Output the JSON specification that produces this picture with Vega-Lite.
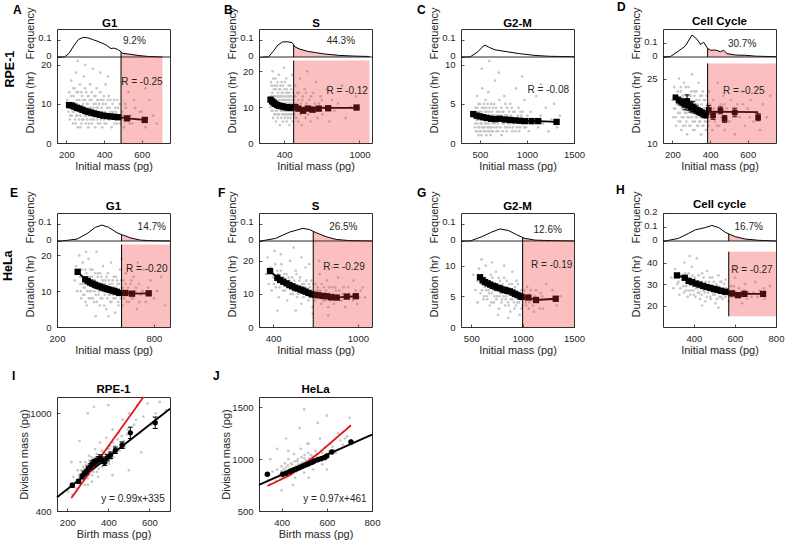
{
"$schema":"https://vega.github.io/schema/vega-lite/v6.json",
"padding":{"left":1,"top":0,"right":0,"bottom":0},
"config":{
 "font":"Liberation Sans",
 "view":{"stroke":"#303030","strokeWidth":1},
 "axis":{"grid":false,"ticks":true,"tickSize":-3,"tickColor":"#262626","tickWidth":0.8,"domain":false,"labelFontSize":9.5,"titleFontSize":11,"titleFontWeight":"normal","labelColor":"#262626","titleColor":"#262626","labelFont":"Liberation Sans","titleFont":"Liberation Sans","labelOverlap":false,"labelFlush":false},
 "axisX":{"labelPadding":9,"titlePadding":2,"format":"d"},
 "axisY":{"labelPadding":9,"titlePadding":2,"format":"~f"},
 "text":{"font":"Liberation Sans"}
},
"datasets":{
"pA":[{"x":205,"y":11},{"x":210,"y":8},{"x":215,"y":13},{"x":218,"y":6},{"x":222,"y":9},{"x":225,"y":16},{"x":228,"y":7},{"x":232,"y":10},{"x":235,"y":5},{"x":238,"y":12},{"x":240,"y":8},{"x":243,"y":14},{"x":246,"y":6},{"x":248,"y":10},{"x":250,"y":18},{"x":252,"y":7},{"x":255,"y":11},{"x":258,"y":9},{"x":260,"y":4},{"x":262,"y":13},{"x":265,"y":8},{"x":268,"y":6},{"x":270,"y":11},{"x":272,"y":15},{"x":275,"y":7},{"x":278,"y":9},{"x":280,"y":5},{"x":283,"y":12},{"x":285,"y":8},{"x":288,"y":10},{"x":290,"y":6},{"x":292,"y":17},{"x":295,"y":9},{"x":298,"y":7},{"x":300,"y":11},{"x":303,"y":5},{"x":305,"y":13},{"x":308,"y":8},{"x":310,"y":6},{"x":313,"y":10},{"x":316,"y":4},{"x":318,"y":12},{"x":320,"y":7},{"x":323,"y":9},{"x":326,"y":15},{"x":328,"y":6},{"x":330,"y":8},{"x":333,"y":11},{"x":336,"y":5},{"x":338,"y":7},{"x":340,"y":19},{"x":343,"y":9},{"x":346,"y":6},{"x":348,"y":12},{"x":350,"y":8},{"x":353,"y":4},{"x":356,"y":10},{"x":358,"y":7},{"x":360,"y":14},{"x":363,"y":6},{"x":366,"y":9},{"x":368,"y":5},{"x":370,"y":11},{"x":373,"y":7},{"x":376,"y":8},{"x":380,"y":13},{"x":383,"y":6},{"x":386,"y":9},{"x":390,"y":4},{"x":393,"y":7},{"x":396,"y":11},{"x":400,"y":6},{"x":404,"y":8},{"x":408,"y":15},{"x":412,"y":5},{"x":416,"y":9},{"x":420,"y":7},{"x":425,"y":12},{"x":430,"y":6},{"x":435,"y":8},{"x":440,"y":4},{"x":445,"y":10},{"x":450,"y":7},{"x":455,"y":5},{"x":460,"y":9},{"x":465,"y":6},{"x":470,"y":11},{"x":478,"y":7},{"x":485,"y":5},{"x":495,"y":8},{"x":505,"y":4},{"x":512,"y":10},{"x":520,"y":6},{"x":530,"y":13},{"x":540,"y":7},{"x":550,"y":5},{"x":565,"y":9},{"x":580,"y":6},{"x":600,"y":8},{"x":620,"y":4},{"x":640,"y":11},{"x":660,"y":7},{"x":680,"y":5},{"x":260,"y":21},{"x":300,"y":20},{"x":380,"y":18},{"x":420,"y":17},{"x":620,"y":14},{"x":212,"y":10},{"x":220,"y":7},{"x":226,"y":12},{"x":233,"y":8},{"x":237,"y":14},{"x":244,"y":9},{"x":249,"y":5},{"x":254,"y":13},{"x":259,"y":7},{"x":264,"y":11},{"x":269,"y":9},{"x":274,"y":4},{"x":279,"y":13},{"x":284,"y":6},{"x":289,"y":11},{"x":294,"y":8},{"x":299,"y":14},{"x":304,"y":7},{"x":309,"y":10},{"x":314,"y":12},{"x":319,"y":5},{"x":324,"y":11},{"x":329,"y":9},{"x":334,"y":13},{"x":339,"y":6},{"x":344,"y":10},{"x":349,"y":7},{"x":354,"y":12},{"x":359,"y":9},{"x":364,"y":11},{"x":369,"y":7},{"x":374,"y":10},{"x":379,"y":5},{"x":384,"y":11},{"x":389,"y":8},{"x":394,"y":10},{"x":399,"y":12},{"x":403,"y":5},{"x":409,"y":10},{"x":414,"y":7},{"x":419,"y":11},{"x":424,"y":6},{"x":429,"y":9},{"x":434,"y":11},{"x":439,"y":7},{"x":447,"y":8},{"x":453,"y":11},{"x":458,"y":6},{"x":463,"y":8},{"x":468,"y":5},{"x":474,"y":9},{"x":482,"y":10},{"x":490,"y":6},{"x":500,"y":7},{"x":515,"y":9},{"x":535,"y":5},{"x":560,"y":11},{"x":590,"y":8}],
"fA":[{"x":150,"f":0},{"x":190,"f":0},{"x":214,"f":0.021},{"x":239,"f":0.064},{"x":264,"f":0.1},{"x":289,"f":0.112},{"x":313,"f":0.11},{"x":338,"f":0.1},{"x":363,"f":0.091},{"x":388,"f":0.08},{"x":413,"f":0.067},{"x":437,"f":0.048},{"x":452,"f":0.051},{"x":472,"f":0.043},{"x":490,"f":0.03},{"x":497,"f":0.021},{"x":537,"f":0.016},{"x":586,"f":0.008},{"x":636,"f":0.003},{"x":685,"f":0.001},{"x":710,"f":0}],
"mA":[{"x":214,"y":9.7},{"x":228,"y":9.6},{"x":242,"y":9.3},{"x":256,"y":9.0},{"x":270,"y":8.8},{"x":285,"y":8.5},{"x":300,"y":8.2},{"x":315,"y":8.0},{"x":330,"y":7.8},{"x":345,"y":7.6},{"x":360,"y":7.4},{"x":378,"y":7.2},{"x":395,"y":7.0},{"x":415,"y":6.9},{"x":435,"y":6.8},{"x":455,"y":6.7},{"x":475,"y":6.6},{"x":522,"y":6.3},{"x":616,"y":5.9}],
"pB":[{"x":290,"y":12},{"x":295,"y":17},{"x":300,"y":9},{"x":305,"y":14},{"x":308,"y":20},{"x":312,"y":7},{"x":315,"y":11},{"x":318,"y":15},{"x":322,"y":8},{"x":325,"y":13},{"x":328,"y":10},{"x":332,"y":18},{"x":335,"y":6},{"x":338,"y":12},{"x":340,"y":9},{"x":343,"y":16},{"x":346,"y":11},{"x":350,"y":7},{"x":352,"y":14},{"x":355,"y":10},{"x":358,"y":19},{"x":360,"y":8},{"x":363,"y":12},{"x":366,"y":5},{"x":368,"y":15},{"x":370,"y":10},{"x":373,"y":9},{"x":376,"y":13},{"x":378,"y":7},{"x":380,"y":17},{"x":383,"y":11},{"x":386,"y":8},{"x":388,"y":14},{"x":390,"y":6},{"x":393,"y":10},{"x":396,"y":12},{"x":398,"y":21},{"x":400,"y":9},{"x":403,"y":15},{"x":406,"y":7},{"x":408,"y":11},{"x":410,"y":13},{"x":413,"y":8},{"x":416,"y":10},{"x":418,"y":18},{"x":420,"y":6},{"x":423,"y":12},{"x":426,"y":9},{"x":428,"y":14},{"x":430,"y":7},{"x":433,"y":11},{"x":436,"y":16},{"x":438,"y":8},{"x":440,"y":10},{"x":443,"y":5},{"x":446,"y":13},{"x":448,"y":9},{"x":450,"y":12},{"x":453,"y":7},{"x":456,"y":15},{"x":458,"y":10},{"x":460,"y":8},{"x":463,"y":11},{"x":466,"y":19},{"x":468,"y":6},{"x":470,"y":9},{"x":475,"y":13},{"x":480,"y":8},{"x":485,"y":11},{"x":490,"y":16},{"x":495,"y":7},{"x":500,"y":10},{"x":505,"y":14},{"x":510,"y":6},{"x":515,"y":12},{"x":520,"y":9},{"x":525,"y":18},{"x":530,"y":8},{"x":535,"y":11},{"x":540,"y":5},{"x":548,"y":13},{"x":555,"y":9},{"x":562,"y":15},{"x":570,"y":7},{"x":578,"y":11},{"x":585,"y":20},{"x":592,"y":8},{"x":600,"y":12},{"x":610,"y":6},{"x":620,"y":10},{"x":630,"y":14},{"x":640,"y":9},{"x":652,"y":17},{"x":665,"y":7},{"x":678,"y":11},{"x":690,"y":13},{"x":705,"y":8},{"x":720,"y":10},{"x":740,"y":15},{"x":760,"y":6},{"x":780,"y":12},{"x":800,"y":9},{"x":830,"y":11},{"x":860,"y":16},{"x":890,"y":7},{"x":930,"y":10},{"x":970,"y":13},{"x":292,"y":10},{"x":298,"y":13},{"x":302,"y":16},{"x":307,"y":11},{"x":311,"y":9},{"x":314,"y":18},{"x":317,"y":13},{"x":321,"y":11},{"x":324,"y":16},{"x":327,"y":8},{"x":331,"y":12},{"x":334,"y":15},{"x":337,"y":9},{"x":341,"y":13},{"x":345,"y":8},{"x":348,"y":17},{"x":351,"y":11},{"x":354,"y":13},{"x":357,"y":8},{"x":361,"y":15},{"x":364,"y":10},{"x":367,"y":13},{"x":371,"y":16},{"x":374,"y":11},{"x":377,"y":9},{"x":381,"y":14},{"x":384,"y":12},{"x":387,"y":10},{"x":391,"y":16},{"x":394,"y":13},{"x":397,"y":8},{"x":401,"y":12},{"x":404,"y":11},{"x":407,"y":17},{"x":411,"y":9},{"x":414,"y":14},{"x":417,"y":12},{"x":421,"y":15},{"x":424,"y":8},{"x":427,"y":11},{"x":431,"y":13},{"x":434,"y":9},{"x":437,"y":12},{"x":441,"y":14},{"x":444,"y":11},{"x":447,"y":8},{"x":451,"y":16},{"x":454,"y":10},{"x":457,"y":13},{"x":461,"y":9},{"x":465,"y":12},{"x":469,"y":14},{"x":473,"y":10},{"x":478,"y":12},{"x":483,"y":9},{"x":488,"y":13},{"x":498,"y":11},{"x":508,"y":9},{"x":518,"y":14},{"x":528,"y":10},{"x":545,"y":12},{"x":560,"y":10},{"x":575,"y":14},{"x":595,"y":10},{"x":615,"y":13},{"x":645,"y":11},{"x":670,"y":9},{"x":700,"y":12}],
"fB":[{"x":230,"f":0},{"x":275,"f":0},{"x":313,"f":0.032},{"x":350,"f":0.068},{"x":388,"f":0.086},{"x":426,"f":0.087},{"x":463,"f":0.082},{"x":476,"f":0.07},{"x":488,"f":0.057},{"x":526,"f":0.045},{"x":589,"f":0.032},{"x":651,"f":0.025},{"x":714,"f":0.018},{"x":840,"f":0.009},{"x":965,"f":0.005},{"x":1080,"f":0.003}],
"mB":[{"x":292,"y":12.1},{"x":305,"y":11.6},{"x":318,"y":11.2},{"x":330,"y":10.9},{"x":345,"y":10.6},{"x":360,"y":10.4},{"x":375,"y":10.3},{"x":390,"y":10.2},{"x":405,"y":10.0},{"x":420,"y":10.0},{"x":435,"y":9.9},{"x":450,"y":9.8},{"x":463,"y":9.9},{"x":490,"y":10.0},{"x":514,"y":9.6},{"x":551,"y":9.0},{"x":589,"y":9.6},{"x":627,"y":9.3},{"x":676,"y":9.6},{"x":751,"y":9.7},{"x":977,"y":9.9}],
"lB":[{"x":292,"y":12.1},{"x":305,"y":11.6},{"x":318,"y":11.2},{"x":330,"y":10.9},{"x":345,"y":10.6},{"x":360,"y":10.4},{"x":375,"y":10.3},{"x":390,"y":10.2},{"x":405,"y":10.0},{"x":420,"y":10.0},{"x":435,"y":9.9},{"x":450,"y":9.8},{"x":463,"y":9.9},{"x":476,"y":9.8},{"x":977,"y":9.8}],
"pC":[{"x":440,"y":3.5},{"x":448,"y":2},{"x":455,"y":4.5},{"x":460,"y":1.5},{"x":465,"y":3},{"x":470,"y":6},{"x":475,"y":2.5},{"x":480,"y":4},{"x":485,"y":1},{"x":490,"y":3.5},{"x":495,"y":2},{"x":500,"y":5},{"x":505,"y":3},{"x":510,"y":1.5},{"x":515,"y":4},{"x":520,"y":2.5},{"x":525,"y":7},{"x":530,"y":3},{"x":535,"y":2},{"x":540,"y":4.5},{"x":545,"y":1.5},{"x":550,"y":3.5},{"x":555,"y":2.5},{"x":560,"y":5.5},{"x":565,"y":3},{"x":570,"y":1},{"x":575,"y":4},{"x":580,"y":2},{"x":585,"y":3.5},{"x":590,"y":6.5},{"x":595,"y":2.5},{"x":600,"y":4},{"x":605,"y":1.5},{"x":610,"y":3},{"x":615,"y":2},{"x":620,"y":5},{"x":625,"y":3.5},{"x":630,"y":1.5},{"x":635,"y":2.5},{"x":640,"y":4.5},{"x":648,"y":3},{"x":655,"y":2},{"x":662,"y":8},{"x":670,"y":3.5},{"x":678,"y":1.5},{"x":685,"y":4},{"x":692,"y":2.5},{"x":700,"y":3},{"x":708,"y":5.5},{"x":715,"y":2},{"x":722,"y":3.5},{"x":730,"y":1},{"x":738,"y":4},{"x":745,"y":2.5},{"x":752,"y":3},{"x":760,"y":6},{"x":768,"y":2},{"x":775,"y":3.5},{"x":783,"y":1.5},{"x":790,"y":4.5},{"x":798,"y":2.5},{"x":805,"y":3},{"x":815,"y":2},{"x":825,"y":5},{"x":835,"y":3},{"x":845,"y":1.5},{"x":855,"y":4},{"x":865,"y":2.5},{"x":875,"y":3},{"x":885,"y":7},{"x":895,"y":2},{"x":905,"y":3.5},{"x":918,"y":1.5},{"x":930,"y":4},{"x":945,"y":2.5},{"x":960,"y":3},{"x":975,"y":5.5},{"x":990,"y":2},{"x":1005,"y":3.5},{"x":1020,"y":1.5},{"x":1040,"y":4},{"x":1060,"y":2.5},{"x":1080,"y":3},{"x":1100,"y":6},{"x":1120,"y":2},{"x":1145,"y":3.5},{"x":1170,"y":2.5},{"x":1200,"y":4.5},{"x":1230,"y":1.5},{"x":1260,"y":3},{"x":1290,"y":5},{"x":1320,"y":2},{"x":1350,"y":3.5},{"x":520,"y":9.5},{"x":700,"y":9},{"x":950,"y":8.5},{"x":1150,"y":7.5},{"x":600,"y":10.5},{"x":452,"y":2.5},{"x":458,"y":4},{"x":463,"y":3},{"x":468,"y":1.5},{"x":473,"y":4.5},{"x":478,"y":3},{"x":483,"y":2},{"x":488,"y":5},{"x":493,"y":3},{"x":498,"y":1.5},{"x":503,"y":4},{"x":508,"y":2.5},{"x":513,"y":3.5},{"x":518,"y":1},{"x":523,"y":4.5},{"x":528,"y":2},{"x":533,"y":3.5},{"x":538,"y":3},{"x":543,"y":5},{"x":548,"y":2},{"x":553,"y":4},{"x":558,"y":1.5},{"x":563,"y":3},{"x":568,"y":4.5},{"x":573,"y":2.5},{"x":578,"y":3},{"x":583,"y":5},{"x":588,"y":1.5},{"x":593,"y":3.5},{"x":598,"y":2},{"x":603,"y":4.5},{"x":608,"y":3},{"x":613,"y":1},{"x":618,"y":3.5},{"x":623,"y":2},{"x":628,"y":4},{"x":633,"y":3},{"x":638,"y":1.5},{"x":645,"y":3.5},{"x":652,"y":5},{"x":658,"y":2.5},{"x":665,"y":3},{"x":673,"y":4.5},{"x":681,"y":2},{"x":689,"y":3.5},{"x":697,"y":1.5},{"x":705,"y":4},{"x":712,"y":3},{"x":720,"y":2},{"x":727,"y":4.5},{"x":735,"y":3},{"x":742,"y":1.5},{"x":750,"y":4},{"x":757,"y":2.5},{"x":765,"y":3.5},{"x":772,"y":5},{"x":780,"y":3},{"x":788,"y":2},{"x":795,"y":3.5},{"x":810,"y":4},{"x":820,"y":2.5},{"x":830,"y":3.5},{"x":840,"y":4.5},{"x":850,"y":2},{"x":860,"y":3},{"x":870,"y":4},{"x":880,"y":1.5},{"x":890,"y":3},{"x":910,"y":4.5},{"x":925,"y":2},{"x":940,"y":3.5},{"x":955,"y":4},{"x":970,"y":2},{"x":985,"y":3}],
"fC":[{"x":300,"f":0},{"x":396,"f":0},{"x":484,"f":0.032},{"x":520,"f":0.054},{"x":555,"f":0.068},{"x":600,"f":0.055},{"x":661,"f":0.041},{"x":767,"f":0.032},{"x":908,"f":0.02},{"x":1086,"f":0.009},{"x":1238,"f":0.004},{"x":1475,"f":0.002},{"x":1500,"f":0.001}],
"mC":[{"x":430,"y":3.7},{"x":465,"y":3.5},{"x":501,"y":3.4},{"x":536,"y":3.3},{"x":572,"y":3.2},{"x":618,"y":3.1},{"x":660,"y":3.05},{"x":713,"y":3.1},{"x":766,"y":3.0},{"x":819,"y":2.95},{"x":872,"y":2.9},{"x":925,"y":2.85},{"x":978,"y":2.8},{"x":1049,"y":2.8},{"x":1120,"y":2.8},{"x":1315,"y":2.7}],
"pD":[{"x":200,"y":20},{"x":205,"y":16},{"x":210,"y":23},{"x":215,"y":18},{"x":220,"y":14},{"x":225,"y":21},{"x":230,"y":17},{"x":235,"y":25},{"x":238,"y":19},{"x":242,"y":15},{"x":245,"y":22},{"x":248,"y":13},{"x":252,"y":18},{"x":255,"y":20},{"x":258,"y":16},{"x":262,"y":24},{"x":265,"y":19},{"x":268,"y":14},{"x":272,"y":21},{"x":275,"y":17},{"x":278,"y":12},{"x":282,"y":20},{"x":285,"y":23},{"x":288,"y":16},{"x":292,"y":18},{"x":295,"y":14},{"x":298,"y":21},{"x":302,"y":19},{"x":305,"y":26},{"x":308,"y":15},{"x":312,"y":17},{"x":315,"y":22},{"x":318,"y":13},{"x":322,"y":19},{"x":325,"y":16},{"x":328,"y":20},{"x":332,"y":14},{"x":335,"y":18},{"x":338,"y":24},{"x":342,"y":15},{"x":345,"y":17},{"x":348,"y":21},{"x":352,"y":12},{"x":355,"y":19},{"x":358,"y":16},{"x":362,"y":22},{"x":365,"y":14},{"x":368,"y":18},{"x":372,"y":15},{"x":375,"y":20},{"x":378,"y":13},{"x":382,"y":17},{"x":385,"y":19},{"x":390,"y":14},{"x":395,"y":22},{"x":400,"y":16},{"x":405,"y":18},{"x":412,"y":13},{"x":418,"y":20},{"x":425,"y":15},{"x":432,"y":17},{"x":440,"y":24},{"x":448,"y":14},{"x":455,"y":19},{"x":462,"y":16},{"x":470,"y":21},{"x":478,"y":13},{"x":488,"y":18},{"x":498,"y":15},{"x":510,"y":20},{"x":520,"y":17},{"x":532,"y":12},{"x":545,"y":19},{"x":558,"y":16},{"x":570,"y":22},{"x":585,"y":14},{"x":600,"y":18},{"x":615,"y":20},{"x":630,"y":15},{"x":648,"y":17},{"x":665,"y":13},{"x":680,"y":19},{"x":700,"y":16},{"x":720,"y":21},{"x":208,"y":18},{"x":213,"y":21},{"x":218,"y":16},{"x":223,"y":19},{"x":228,"y":22},{"x":233,"y":15},{"x":236,"y":20},{"x":240,"y":17},{"x":244,"y":23},{"x":247,"y":19},{"x":250,"y":16},{"x":254,"y":21},{"x":257,"y":14},{"x":260,"y":18},{"x":264,"y":20},{"x":267,"y":17},{"x":270,"y":23},{"x":274,"y":15},{"x":277,"y":19},{"x":280,"y":16},{"x":284,"y":21},{"x":287,"y":18},{"x":290,"y":14},{"x":294,"y":20},{"x":297,"y":17},{"x":300,"y":22},{"x":304,"y":16},{"x":307,"y":19},{"x":310,"y":13},{"x":314,"y":18},{"x":317,"y":21},{"x":320,"y":15},{"x":324,"y":17},{"x":327,"y":22},{"x":330,"y":16},{"x":334,"y":19},{"x":337,"y":14},{"x":340,"y":17},{"x":344,"y":20},{"x":347,"y":15},{"x":350,"y":18},{"x":354,"y":16},{"x":357,"y":21},{"x":360,"y":14},{"x":364,"y":17},{"x":367,"y":20},{"x":370,"y":16},{"x":374,"y":18},{"x":377,"y":15},{"x":381,"y":21},{"x":384,"y":16},{"x":388,"y":18},{"x":392,"y":15},{"x":398,"y":19},{"x":408,"y":16},{"x":420,"y":18},{"x":435,"y":14},{"x":450,"y":17},{"x":475,"y":19},{"x":505,"y":15},{"x":540,"y":17},{"x":575,"y":19},{"x":610,"y":16}],
"fD":[{"x":150,"f":0},{"x":189,"f":0.003},{"x":233,"f":0.043},{"x":269,"f":0.079},{"x":304,"f":0.157},{"x":331,"f":0.126},{"x":349,"f":0.09},{"x":366,"f":0.105},{"x":384,"f":0.067},{"x":387,"f":0.062},{"x":402,"f":0.048},{"x":428,"f":0.05},{"x":455,"f":0.038},{"x":472,"f":0.048},{"x":490,"f":0.024},{"x":534,"f":0.014},{"x":588,"f":0.012},{"x":641,"f":0.006},{"x":750,"f":0.002}],
"mD":[{"x":216,"y":20.6,"lo":20.1,"hi":21.1},{"x":232,"y":20.0,"lo":19.3,"hi":20.7},{"x":245,"y":19.6,"lo":18.8,"hi":20.4},{"x":258,"y":19.3,"lo":18.4,"hi":20.2},{"x":268,"y":18.9,"lo":17.7,"hi":20.1},{"x":278,"y":19.8,"lo":18.4,"hi":21.2},{"x":288,"y":18.6,"lo":17.6,"hi":19.6},{"x":298,"y":18.3,"lo":17.2,"hi":19.4},{"x":308,"y":18.5,"lo":17.3,"hi":19.7},{"x":318,"y":17.9,"lo":17.0,"hi":18.8},{"x":328,"y":17.7,"lo":16.8,"hi":18.6},{"x":338,"y":17.4,"lo":16.6,"hi":18.2},{"x":348,"y":17.2,"lo":16.4,"hi":18.0},{"x":358,"y":16.9,"lo":16.1,"hi":17.7},{"x":368,"y":16.7,"lo":15.9,"hi":17.5},{"x":378,"y":16.5,"lo":15.8,"hi":17.2},{"x":393,"y":17.7,"lo":16.7,"hi":18.7},{"x":416,"y":16.4,"lo":15.5,"hi":17.3},{"x":455,"y":17.6,"lo":16.8,"hi":18.4},{"x":477,"y":15.6,"lo":14.8,"hi":16.4},{"x":531,"y":17.1,"lo":16.1,"hi":18.1},{"x":655,"y":16.0,"lo":15.2,"hi":16.8}],
"lD":[{"x":216,"y":20.6},{"x":232,"y":20.0},{"x":245,"y":19.6},{"x":258,"y":19.3},{"x":268,"y":18.9},{"x":278,"y":19.3},{"x":288,"y":18.6},{"x":298,"y":18.3},{"x":308,"y":18.2},{"x":318,"y":17.9},{"x":328,"y":17.7},{"x":338,"y":17.4},{"x":348,"y":17.2},{"x":358,"y":16.9},{"x":368,"y":16.7},{"x":378,"y":16.5},{"x":390,"y":17.3},{"x":655,"y":17.2}],
"pE":[{"x":310,"y":13},{"x":318,"y":17},{"x":325,"y":10},{"x":332,"y":15},{"x":338,"y":20},{"x":345,"y":12},{"x":350,"y":8},{"x":355,"y":14},{"x":360,"y":18},{"x":365,"y":11},{"x":370,"y":9},{"x":375,"y":16},{"x":380,"y":13},{"x":385,"y":6},{"x":390,"y":12},{"x":395,"y":19},{"x":400,"y":10},{"x":405,"y":14},{"x":410,"y":8},{"x":415,"y":12},{"x":420,"y":16},{"x":425,"y":11},{"x":430,"y":7},{"x":435,"y":13},{"x":440,"y":9},{"x":445,"y":21},{"x":450,"y":12},{"x":455,"y":15},{"x":460,"y":10},{"x":465,"y":6},{"x":470,"y":11},{"x":475,"y":14},{"x":480,"y":8},{"x":485,"y":17},{"x":490,"y":12},{"x":495,"y":9},{"x":500,"y":13},{"x":505,"y":5},{"x":510,"y":11},{"x":515,"y":15},{"x":520,"y":9},{"x":525,"y":12},{"x":530,"y":7},{"x":535,"y":18},{"x":540,"y":10},{"x":545,"y":13},{"x":550,"y":8},{"x":555,"y":11},{"x":560,"y":4},{"x":565,"y":14},{"x":570,"y":9},{"x":575,"y":12},{"x":580,"y":7},{"x":585,"y":10},{"x":590,"y":16},{"x":595,"y":8},{"x":600,"y":11},{"x":605,"y":6},{"x":612,"y":13},{"x":620,"y":9},{"x":628,"y":15},{"x":636,"y":10},{"x":645,"y":7},{"x":655,"y":12},{"x":665,"y":8},{"x":675,"y":14},{"x":685,"y":10},{"x":695,"y":5},{"x":708,"y":12},{"x":720,"y":9},{"x":735,"y":16},{"x":750,"y":7},{"x":765,"y":11},{"x":780,"y":13},{"x":800,"y":8},{"x":820,"y":10},{"x":845,"y":14},{"x":870,"y":6},{"x":520,"y":3},{"x":440,"y":3},{"x":380,"y":21},{"x":600,"y":19},{"x":700,"y":18},{"x":342,"y":14},{"x":348,"y":10},{"x":352,"y":16},{"x":358,"y":12},{"x":362,"y":9},{"x":367,"y":14},{"x":372,"y":11},{"x":377,"y":7},{"x":382,"y":15},{"x":387,"y":10},{"x":392,"y":13},{"x":397,"y":8},{"x":402,"y":12},{"x":407,"y":16},{"x":412,"y":10},{"x":417,"y":14},{"x":422,"y":8},{"x":427,"y":13},{"x":432,"y":10},{"x":437,"y":15},{"x":442,"y":11},{"x":447,"y":7},{"x":452,"y":14},{"x":457,"y":9},{"x":462,"y":12},{"x":467,"y":15},{"x":472,"y":8},{"x":477,"y":11},{"x":482,"y":13},{"x":487,"y":10},{"x":492,"y":6},{"x":497,"y":12},{"x":502,"y":10},{"x":507,"y":14},{"x":512,"y":8},{"x":517,"y":11},{"x":522,"y":13},{"x":527,"y":9},{"x":532,"y":11},{"x":537,"y":7},{"x":542,"y":12},{"x":547,"y":9},{"x":552,"y":14},{"x":557,"y":10},{"x":562,"y":8},{"x":567,"y":11},{"x":572,"y":13},{"x":577,"y":9},{"x":582,"y":6},{"x":587,"y":12},{"x":592,"y":10},{"x":597,"y":13},{"x":603,"y":9},{"x":608,"y":11},{"x":616,"y":8},{"x":624,"y":12},{"x":632,"y":7},{"x":640,"y":11},{"x":650,"y":9},{"x":660,"y":13},{"x":670,"y":8},{"x":690,"y":11},{"x":710,"y":7},{"x":730,"y":10},{"x":760,"y":9}],
"fE":[{"x":200,"f":0},{"x":231,"f":0},{"x":324,"f":0.011},{"x":386,"f":0.042},{"x":437,"f":0.078},{"x":479,"f":0.091},{"x":520,"f":0.078},{"x":572,"f":0.047},{"x":600,"f":0.036},{"x":613,"f":0.033},{"x":654,"f":0.018},{"x":716,"f":0.005},{"x":778,"f":0.002},{"x":900,"f":0}],
"mE":[{"x":328,"y":15.4},{"x":375,"y":13.3},{"x":390,"y":12.8},{"x":405,"y":12.4},{"x":420,"y":12.1},{"x":435,"y":11.8},{"x":450,"y":11.5},{"x":465,"y":11.3},{"x":480,"y":11.0},{"x":495,"y":10.8},{"x":510,"y":10.6},{"x":525,"y":10.4},{"x":540,"y":10.2},{"x":555,"y":10.0},{"x":570,"y":9.8},{"x":585,"y":9.5},{"x":623,"y":9.5},{"x":665,"y":9.3},{"x":768,"y":9.4}],
"pF":[{"x":350,"y":16},{"x":360,"y":21},{"x":370,"y":13},{"x":380,"y":18},{"x":390,"y":11},{"x":400,"y":15},{"x":410,"y":23},{"x":420,"y":12},{"x":430,"y":17},{"x":440,"y":9},{"x":450,"y":14},{"x":460,"y":19},{"x":470,"y":11},{"x":480,"y":16},{"x":490,"y":13},{"x":500,"y":8},{"x":510,"y":15},{"x":520,"y":20},{"x":530,"y":12},{"x":540,"y":10},{"x":550,"y":14},{"x":560,"y":17},{"x":570,"y":9},{"x":580,"y":12},{"x":590,"y":15},{"x":600,"y":7},{"x":610,"y":11},{"x":620,"y":13},{"x":630,"y":18},{"x":640,"y":10},{"x":650,"y":8},{"x":660,"y":12},{"x":670,"y":14},{"x":680,"y":6},{"x":690,"y":10},{"x":700,"y":13},{"x":710,"y":9},{"x":720,"y":11},{"x":730,"y":16},{"x":740,"y":7},{"x":750,"y":10},{"x":760,"y":12},{"x":770,"y":8},{"x":780,"y":14},{"x":790,"y":6},{"x":800,"y":10},{"x":815,"y":12},{"x":830,"y":7},{"x":845,"y":11},{"x":860,"y":15},{"x":875,"y":8},{"x":890,"y":10},{"x":910,"y":6},{"x":930,"y":12},{"x":950,"y":9},{"x":970,"y":14},{"x":995,"y":7},{"x":1020,"y":11},{"x":1050,"y":9},{"x":455,"y":22},{"x":545,"y":24},{"x":600,"y":21},{"x":655,"y":19},{"x":725,"y":20},{"x":820,"y":18},{"x":430,"y":5},{"x":560,"y":5},{"x":680,"y":4},{"x":790,"y":3.5},{"x":395,"y":17},{"x":405,"y":13},{"x":415,"y":19},{"x":425,"y":14},{"x":435,"y":16},{"x":445,"y":12},{"x":455,"y":17},{"x":465,"y":13},{"x":475,"y":15},{"x":485,"y":11},{"x":495,"y":16},{"x":505,"y":12},{"x":515,"y":14},{"x":525,"y":10},{"x":535,"y":15},{"x":545,"y":11},{"x":555,"y":13},{"x":565,"y":16},{"x":575,"y":10},{"x":585,"y":14},{"x":595,"y":11},{"x":605,"y":13},{"x":615,"y":9},{"x":625,"y":12},{"x":635,"y":14},{"x":645,"y":11},{"x":655,"y":13},{"x":665,"y":9},{"x":675,"y":11},{"x":685,"y":13},{"x":695,"y":8},{"x":705,"y":11},{"x":715,"y":12},{"x":725,"y":9},{"x":735,"y":11},{"x":745,"y":13},{"x":755,"y":8},{"x":765,"y":10},{"x":775,"y":11},{"x":785,"y":9},{"x":795,"y":12},{"x":808,"y":8},{"x":822,"y":10},{"x":838,"y":12},{"x":852,"y":9},{"x":868,"y":11},{"x":885,"y":8},{"x":900,"y":12},{"x":920,"y":9},{"x":940,"y":10},{"x":965,"y":8},{"x":985,"y":11},{"x":1010,"y":9},{"x":1035,"y":12}],
"fF":[{"x":300,"f":0},{"x":314,"f":0},{"x":418,"f":0.015},{"x":517,"f":0.051},{"x":611,"f":0.072},{"x":659,"f":0.065},{"x":684,"f":0.055},{"x":706,"f":0.047},{"x":776,"f":0.024},{"x":847,"f":0.009},{"x":942,"f":0.002},{"x":1100,"f":0}],
"mF":[{"x":378,"y":16.9},{"x":430,"y":14.9},{"x":450,"y":14.2},{"x":472,"y":13.7},{"x":495,"y":13.2},{"x":515,"y":12.7},{"x":535,"y":12.3},{"x":555,"y":11.9},{"x":575,"y":11.6},{"x":595,"y":11.3},{"x":612,"y":11.0},{"x":630,"y":10.7},{"x":650,"y":10.3},{"x":673,"y":9.9},{"x":700,"y":9.7},{"x":720,"y":9.6},{"x":750,"y":9.4},{"x":779,"y":9.3},{"x":810,"y":9.0},{"x":850,"y":8.9},{"x":921,"y":9.2},{"x":985,"y":9.3}],
"pG":[{"x":520,"y":8.5},{"x":540,"y":6},{"x":560,"y":7.5},{"x":575,"y":9.5},{"x":590,"y":5.5},{"x":600,"y":7},{"x":610,"y":8},{"x":620,"y":4.5},{"x":630,"y":6.5},{"x":640,"y":10},{"x":650,"y":5},{"x":660,"y":7.5},{"x":670,"y":6},{"x":680,"y":3.5},{"x":690,"y":8.5},{"x":700,"y":5.5},{"x":710,"y":7},{"x":720,"y":4},{"x":730,"y":6},{"x":740,"y":9},{"x":750,"y":5},{"x":760,"y":6.5},{"x":770,"y":3},{"x":780,"y":7.5},{"x":790,"y":5.5},{"x":800,"y":4.5},{"x":810,"y":6},{"x":820,"y":8},{"x":830,"y":3.5},{"x":840,"y":5},{"x":850,"y":6.5},{"x":860,"y":4},{"x":870,"y":7},{"x":880,"y":2.5},{"x":890,"y":5.5},{"x":900,"y":4.5},{"x":910,"y":6},{"x":920,"y":3},{"x":930,"y":5},{"x":940,"y":7.5},{"x":950,"y":4},{"x":960,"y":5.5},{"x":970,"y":2},{"x":980,"y":4.5},{"x":990,"y":6},{"x":1000,"y":3.5},{"x":1015,"y":5},{"x":1030,"y":4},{"x":1045,"y":6.5},{"x":1060,"y":3},{"x":1075,"y":5},{"x":1090,"y":4.5},{"x":1110,"y":2.5},{"x":1130,"y":6},{"x":1150,"y":4},{"x":1175,"y":5.5},{"x":1200,"y":3},{"x":1230,"y":7},{"x":1260,"y":4.5},{"x":1290,"y":6},{"x":1330,"y":3.5},{"x":1370,"y":5},{"x":600,"y":11},{"x":700,"y":10.5},{"x":820,"y":10},{"x":900,"y":9},{"x":760,"y":2},{"x":860,"y":1.5},{"x":560,"y":4},{"x":605,"y":6},{"x":615,"y":7.5},{"x":625,"y":5},{"x":635,"y":8},{"x":645,"y":6},{"x":655,"y":4.5},{"x":665,"y":7},{"x":675,"y":5.5},{"x":685,"y":6.5},{"x":695,"y":4},{"x":705,"y":8},{"x":715,"y":6},{"x":725,"y":5},{"x":735,"y":7},{"x":745,"y":4.5},{"x":755,"y":6},{"x":765,"y":8},{"x":775,"y":5},{"x":785,"y":6.5},{"x":795,"y":4},{"x":805,"y":7},{"x":815,"y":5},{"x":825,"y":6},{"x":835,"y":4.5},{"x":845,"y":7.5},{"x":855,"y":5.5},{"x":865,"y":3.5},{"x":875,"y":6},{"x":885,"y":4.5},{"x":895,"y":7},{"x":905,"y":5},{"x":915,"y":4},{"x":925,"y":6.5},{"x":935,"y":3.5},{"x":945,"y":5.5},{"x":955,"y":7},{"x":965,"y":4},{"x":975,"y":5},{"x":985,"y":3},{"x":995,"y":5.5},{"x":1005,"y":4.5},{"x":1020,"y":6},{"x":1035,"y":3.5},{"x":1050,"y":5},{"x":1065,"y":4},{"x":1080,"y":6},{"x":1100,"y":3.5},{"x":1120,"y":5},{"x":1140,"y":4.5},{"x":1165,"y":3},{"x":1190,"y":5}],
"fG":[{"x":400,"f":0},{"x":488,"f":0},{"x":601,"f":0.024},{"x":699,"f":0.051},{"x":780,"f":0.069},{"x":861,"f":0.06},{"x":942,"f":0.036},{"x":1000,"f":0.02},{"x":1023,"f":0.015},{"x":1120,"f":0.005},{"x":1283,"f":0.002},{"x":1500,"f":0}],
"mG":[{"x":585,"y":8.1},{"x":610,"y":7.6},{"x":634,"y":7.3},{"x":660,"y":7.1},{"x":685,"y":6.9},{"x":710,"y":6.7},{"x":731,"y":6.6},{"x":755,"y":6.4},{"x":780,"y":6.3},{"x":805,"y":6.1},{"x":828,"y":6.0},{"x":850,"y":5.9},{"x":875,"y":5.8},{"x":900,"y":5.6},{"x":926,"y":5.4},{"x":950,"y":5.2},{"x":975,"y":5.0},{"x":991,"y":4.9},{"x":1055,"y":4.8},{"x":1130,"y":4.4},{"x":1322,"y":4.6}],
"pH":[{"x":290,"y":33},{"x":300,"y":28},{"x":310,"y":37},{"x":320,"y":30},{"x":330,"y":25},{"x":340,"y":34},{"x":350,"y":29},{"x":355,"y":40},{"x":360,"y":27},{"x":365,"y":32},{"x":370,"y":24},{"x":375,"y":35},{"x":380,"y":30},{"x":385,"y":27},{"x":390,"y":38},{"x":395,"y":29},{"x":400,"y":25},{"x":405,"y":33},{"x":410,"y":28},{"x":415,"y":42},{"x":420,"y":26},{"x":425,"y":31},{"x":430,"y":23},{"x":435,"y":29},{"x":440,"y":35},{"x":445,"y":27},{"x":450,"y":30},{"x":455,"y":22},{"x":460,"y":28},{"x":465,"y":36},{"x":470,"y":26},{"x":475,"y":31},{"x":480,"y":24},{"x":485,"y":29},{"x":490,"y":33},{"x":495,"y":25},{"x":500,"y":28},{"x":505,"y":21},{"x":510,"y":30},{"x":515,"y":26},{"x":520,"y":34},{"x":525,"y":24},{"x":530,"y":27},{"x":535,"y":31},{"x":540,"y":23},{"x":545,"y":28},{"x":550,"y":25},{"x":555,"y":32},{"x":560,"y":26},{"x":570,"y":22},{"x":580,"y":29},{"x":590,"y":27},{"x":600,"y":33},{"x":610,"y":24},{"x":620,"y":28},{"x":635,"y":21},{"x":650,"y":30},{"x":665,"y":26},{"x":680,"y":24},{"x":700,"y":31},{"x":720,"y":27},{"x":745,"y":23},{"x":770,"y":29},{"x":440,"y":20},{"x":520,"y":19},{"x":380,"y":43},{"x":600,"y":38},{"x":325,"y":31},{"x":335,"y":28},{"x":345,"y":32},{"x":352,"y":26},{"x":358,"y":35},{"x":363,"y":29},{"x":368,"y":31},{"x":373,"y":27},{"x":378,"y":33},{"x":383,"y":25},{"x":388,"y":30},{"x":393,"y":34},{"x":398,"y":27},{"x":403,"y":30},{"x":408,"y":24},{"x":413,"y":31},{"x":418,"y":28},{"x":423,"y":34},{"x":428,"y":26},{"x":433,"y":31},{"x":438,"y":25},{"x":443,"y":30},{"x":448,"y":33},{"x":453,"y":26},{"x":458,"y":31},{"x":463,"y":24},{"x":468,"y":29},{"x":473,"y":27},{"x":478,"y":33},{"x":483,"y":23},{"x":488,"y":28},{"x":493,"y":26},{"x":498,"y":31},{"x":503,"y":25},{"x":508,"y":28},{"x":513,"y":23},{"x":518,"y":29},{"x":523,"y":27},{"x":528,"y":31},{"x":533,"y":24},{"x":538,"y":28},{"x":543,"y":26},{"x":548,"y":30},{"x":553,"y":24},{"x":558,"y":28},{"x":565,"y":25},{"x":575,"y":27},{"x":585,"y":24},{"x":595,"y":29},{"x":605,"y":26},{"x":625,"y":25},{"x":645,"y":27},{"x":660,"y":23},{"x":690,"y":26},{"x":710,"y":24},{"x":740,"y":28}],
"fH":[{"x":250,"f":0},{"x":262,"f":0},{"x":326,"f":0.019},{"x":375,"f":0.055},{"x":408,"f":0.08},{"x":456,"f":0.096},{"x":488,"f":0.111},{"x":521,"f":0.096},{"x":553,"f":0.062},{"x":570,"f":0.051},{"x":602,"f":0.031},{"x":650,"f":0.014},{"x":715,"f":0.005},{"x":800,"f":0}],
"mH":[{"x":318,"y":34.0},{"x":356,"y":32.9},{"x":375,"y":31.4},{"x":392,"y":30.9},{"x":410,"y":30.2},{"x":428,"y":29.7},{"x":445,"y":29.1},{"x":462,"y":28.6},{"x":480,"y":28.2},{"x":498,"y":27.7},{"x":515,"y":27.3},{"x":533,"y":26.8},{"x":553,"y":26.4},{"x":586,"y":25.6},{"x":615,"y":24.8},{"x":646,"y":25.4},{"x":737,"y":25.4}],
"pI":[{"x":205,"y":520},{"x":215,"y":560},{"x":225,"y":500},{"x":230,"y":610},{"x":240,"y":580},{"x":245,"y":540},{"x":250,"y":650},{"x":255,"y":600},{"x":260,"y":560},{"x":265,"y":700},{"x":270,"y":620},{"x":275,"y":590},{"x":280,"y":640},{"x":285,"y":560},{"x":290,"y":680},{"x":295,"y":620},{"x":300,"y":600},{"x":305,"y":740},{"x":310,"y":650},{"x":315,"y":690},{"x":320,"y":620},{"x":325,"y":710},{"x":330,"y":660},{"x":335,"y":780},{"x":340,"y":700},{"x":345,"y":640},{"x":350,"y":730},{"x":355,"y":690},{"x":360,"y":820},{"x":365,"y":710},{"x":370,"y":670},{"x":375,"y":760},{"x":380,"y":720},{"x":385,"y":690},{"x":390,"y":850},{"x":395,"y":740},{"x":400,"y":700},{"x":405,"y":780},{"x":410,"y":760},{"x":420,"y":900},{"x":425,"y":730},{"x":430,"y":800},{"x":440,"y":760},{"x":450,"y":880},{"x":460,"y":820},{"x":470,"y":960},{"x":480,"y":790},{"x":490,"y":870},{"x":500,"y":1000},{"x":510,"y":840},{"x":525,"y":930},{"x":540,"y":1050},{"x":555,"y":880},{"x":570,"y":980},{"x":590,"y":1060},{"x":610,"y":930},{"x":630,"y":1000},{"x":650,"y":1070},{"x":680,"y":1020},{"x":300,"y":1000},{"x":330,"y":1040},{"x":400,"y":1050},{"x":260,"y":830},{"x":220,"y":700},{"x":500,"y":650},{"x":560,"y":760},{"x":420,"y":620},{"x":248,"y":590},{"x":258,"y":620},{"x":262,"y":580},{"x":268,"y":650},{"x":273,"y":600},{"x":278,"y":670},{"x":283,"y":610},{"x":288,"y":700},{"x":293,"y":640},{"x":298,"y":680},{"x":303,"y":620},{"x":308,"y":710},{"x":313,"y":660},{"x":318,"y":730},{"x":323,"y":670},{"x":328,"y":640},{"x":333,"y":720},{"x":338,"y":680},{"x":343,"y":750},{"x":348,"y":700},{"x":353,"y":660},{"x":358,"y":740},{"x":363,"y":690},{"x":368,"y":770},{"x":373,"y":720},{"x":378,"y":680},{"x":383,"y":750},{"x":388,"y":710},{"x":393,"y":780},{"x":398,"y":730},{"x":403,"y":690},{"x":408,"y":800},{"x":413,"y":720},{"x":418,"y":760},{"x":423,"y":820},{"x":435,"y":780},{"x":445,"y":840},{"x":455,"y":770},{"x":465,"y":860},{"x":475,"y":830},{"x":495,"y":900},{"x":515,"y":880},{"x":535,"y":960},{"x":300,"y":560},{"x":320,"y":580},{"x":350,"y":610}],
"mI":[{"x":225,"y":558,"lo":546,"hi":570},{"x":255,"y":582,"lo":570,"hi":594},{"x":272,"y":612,"lo":597,"hi":627},{"x":282,"y":630,"lo":615,"hi":645},{"x":292,"y":642,"lo":627,"hi":657},{"x":302,"y":660,"lo":645,"hi":675},{"x":312,"y":672,"lo":654,"hi":690},{"x":320,"y":690,"lo":672,"hi":708},{"x":330,"y":698,"lo":680,"hi":716},{"x":340,"y":706,"lo":688,"hi":724},{"x":350,"y":714,"lo":694,"hi":734},{"x":360,"y":725,"lo":705,"hi":745},{"x":372,"y":712,"lo":692,"hi":732},{"x":382,"y":700,"lo":680,"hi":720},{"x":395,"y":728,"lo":708,"hi":748},{"x":410,"y":742,"lo":722,"hi":762},{"x":434,"y":773,"lo":753,"hi":793},{"x":467,"y":804,"lo":784,"hi":824},{"x":507,"y":880,"lo":845,"hi":915},{"x":628,"y":942,"lo":907,"hi":977}],
"lI":[{"x":150,"y":484},{"x":700,"y":1028}],
"rI":[{"x":220,"y":480},{"x":571,"y":1100}],
"pJ":[{"x":340,"y":800},{"x":350,"y":760},{"x":360,"y":880},{"x":370,"y":820},{"x":375,"y":790},{"x":380,"y":900},{"x":390,"y":850},{"x":395,"y":810},{"x":400,"y":930},{"x":405,"y":870},{"x":410,"y":830},{"x":415,"y":960},{"x":420,"y":890},{"x":425,"y":850},{"x":430,"y":1000},{"x":435,"y":910},{"x":440,"y":870},{"x":445,"y":950},{"x":450,"y":890},{"x":455,"y":1050},{"x":460,"y":920},{"x":465,"y":880},{"x":470,"y":980},{"x":475,"y":940},{"x":480,"y":900},{"x":485,"y":1100},{"x":490,"y":960},{"x":495,"y":920},{"x":500,"y":1010},{"x":505,"y":970},{"x":510,"y":930},{"x":515,"y":1150},{"x":520,"y":990},{"x":525,"y":950},{"x":530,"y":1040},{"x":540,"y":1000},{"x":550,"y":1080},{"x":560,"y":1020},{"x":570,"y":1200},{"x":580,"y":1060},{"x":590,"y":1110},{"x":600,"y":1040},{"x":615,"y":1150},{"x":630,"y":1090},{"x":650,"y":1250},{"x":670,"y":1140},{"x":690,"y":1220},{"x":710,"y":1180},{"x":420,"y":1200},{"x":480,"y":1300},{"x":560,"y":1350},{"x":600,"y":1420},{"x":500,"y":1480},{"x":700,"y":1400},{"x":400,"y":700},{"x":450,"y":750},{"x":520,"y":820},{"x":600,"y":900},{"x":350,"y":1000},{"x":380,"y":1100},{"x":385,"y":830},{"x":398,"y":880},{"x":402,"y":820},{"x":408,"y":900},{"x":412,"y":860},{"x":418,"y":920},{"x":422,"y":870},{"x":428,"y":940},{"x":432,"y":880},{"x":438,"y":900},{"x":442,"y":960},{"x":448,"y":910},{"x":452,"y":870},{"x":458,"y":980},{"x":462,"y":930},{"x":468,"y":900},{"x":472,"y":1000},{"x":478,"y":950},{"x":482,"y":910},{"x":488,"y":1020},{"x":492,"y":970},{"x":498,"y":940},{"x":502,"y":1040},{"x":508,"y":990},{"x":512,"y":960},{"x":518,"y":1060},{"x":522,"y":1010},{"x":528,"y":970},{"x":535,"y":1030},{"x":545,"y":990},{"x":555,"y":1050},{"x":565,"y":1000},{"x":575,"y":1080},{"x":585,"y":1030},{"x":595,"y":1120},{"x":610,"y":1070},{"x":625,"y":1120},{"x":640,"y":1060},{"x":660,"y":1180},{"x":680,"y":1200},{"x":460,"y":820},{"x":500,"y":870},{"x":540,"y":900},{"x":580,"y":950},{"x":430,"y":1080},{"x":520,"y":1150}],
"mJ":[{"x":337,"y":854,"lo":834,"hi":874},{"x":405,"y":855,"lo":845,"hi":865},{"x":420,"y":865,"lo":855,"hi":875},{"x":435,"y":878,"lo":868,"hi":888},{"x":445,"y":888,"lo":878,"hi":898},{"x":455,"y":898,"lo":888,"hi":908},{"x":465,"y":905,"lo":895,"hi":915},{"x":475,"y":915,"lo":905,"hi":925},{"x":485,"y":925,"lo":915,"hi":935},{"x":495,"y":935,"lo":925,"hi":945},{"x":505,"y":945,"lo":935,"hi":955},{"x":515,"y":952,"lo":942,"hi":962},{"x":525,"y":962,"lo":952,"hi":972},{"x":535,"y":970,"lo":958,"hi":982},{"x":545,"y":982,"lo":970,"hi":994},{"x":560,"y":995,"lo":983,"hi":1007},{"x":575,"y":1005,"lo":990,"hi":1020},{"x":590,"y":1015,"lo":1000,"hi":1030},{"x":600,"y":1030,"lo":1015,"hi":1045},{"x":622,"y":1070,"lo":1050,"hi":1090},{"x":707,"y":1166,"lo":1141,"hi":1191}],
"lJ":[{"x":300,"y":752},{"x":800,"y":1237}],
"rJ":[{"x":337,"y":741},{"x":437,"y":845},{"x":562,"y":1054},{"x":707,"y":1327}]
},
"columns":4,
"spacing":{"row":70,"column":89},
"bounds":"flush",
"concat":[
{"width":113,"height":114,"resolve":{"scale":{"y":"independent"},"axis":{"y":"independent"}},
 "layer":[
  {"layer":[
   {"data":{"name":"fA"},"transform":[{"filter":"datum.x>=490"}],"mark":{"type":"area","color":"#f52a2a","opacity":0.3},
    "encoding":{"x":{"field":"x","type":"quantitative","scale":{"domain":[150,710]},"axis":{"title":"Initial mass (pg)","values":[200,400,600]}},
     "y":{"field":"f","type":"quantitative","scale":{"domain":[0,0.15],"range":[28,0]},"axis":{"title":"Frequency","values":[0,0.1],"orient":"left","labelOffset":-2,"titleX":-22,"titleY":4,"titleBaseline":"bottom","titleAngle":270,"titleAlign":"center"}}}},
   {"data":{"name":"fA"},"mark":{"type":"line","color":"#000000","strokeWidth":1},"encoding":{"x":{"field":"x","type":"quantitative"},"y":{"field":"f","type":"quantitative"}}},
   {"data":{"values":[{}]},"mark":{"type":"rule","color":"#262626"},"encoding":{"y":{"datum":0}}},
   {"data":{"values":[{}]},"mark":{"type":"rule","color":"#000000"},"encoding":{"x":{"datum":490},"y":{"datum":0},"y2":{"datum":0.03}}},
   {"data":{"values":[{}]},"mark":{"type":"text","fontSize":10,"color":"#262626"},"encoding":{"x":{"datum":561},"y":{"datum":0.094},"text":{"value":"9.2%"}}},
   {"data":{"values":[{}]},"mark":{"type":"text","fontSize":11.5,"fontWeight":"bold","color":"#000000","baseline":"alphabetic"},"encoding":{"x":{"datum":430},"y":{"datum":0.1714},"text":{"value":"G1"}}},
   {"data":{"values":[{}]},"mark":{"type":"text","fontSize":12,"fontWeight":"bold","color":"#000000","align":"left","baseline":"alphabetic"},"encoding":{"x":{"datum":-83},"y":{"datum":0.2464},"text":{"value":"A"}}}
  ]},
  {"layer":[
   {"data":{"name":"pA"},"mark":{"type":"circle","size":7,"color":"#c6c6c6","opacity":1},"encoding":{"x":{"field":"x","type":"quantitative"},"y":{"field":"y","type":"quantitative","scale":{"domain":[0,22],"range":[114,28]},"axis":{"title":"Duration (hr)","values":[0,10,20],"orient":"left","titleX":-22,"titleY":73,"titleBaseline":"bottom","titleAngle":270,"titleAlign":"center"}}}},
   {"data":{"name":"mA"},"mark":{"type":"line","color":"#000000","strokeWidth":1.8},"encoding":{"x":{"field":"x","type":"quantitative"},"y":{"field":"y","type":"quantitative"}}},
   {"data":{"name":"mA"},"mark":{"type":"square","size":40,"color":"#000000","opacity":1},"encoding":{"x":{"field":"x","type":"quantitative"},"y":{"field":"y","type":"quantitative"}}},
   {"data":{"values":[{}]},"mark":{"type":"rect","color":"#f52a2a","opacity":0.3},"encoding":{"x":{"datum":490},"x2":{"datum":710},"y":{"datum":0},"y2":{"datum":22}}},
   {"data":{"values":[{}]},"mark":{"type":"rule","color":"#000000"},"encoding":{"x":{"datum":490},"y":{"datum":0},"y2":{"datum":22}}},
   {"data":{"values":[{}]},"mark":{"type":"text","fontSize":10,"color":"#262626"},"encoding":{"x":{"datum":601},"y":{"datum":15.6},"text":{"value":"R = -0.25"}}},
   {"data":{"values":[{}]},"mark":{"type":"text","fontSize":12.5,"fontWeight":"bold","color":"#000000","angle":270},"encoding":{"x":{"datum":-98},"y":{"datum":18.9},"text":{"value":"RPE-1"}}}
  ]}
 ]},
{"width":113,"height":114,"resolve":{"scale":{"y":"independent"},"axis":{"y":"independent"}},
 "layer":[
  {"layer":[
   {"data":{"name":"fB"},"transform":[{"filter":"datum.x>=476"}],"mark":{"type":"area","color":"#f52a2a","opacity":0.3},
    "encoding":{"x":{"field":"x","type":"quantitative","scale":{"domain":[230,1080]},"axis":{"title":"Initial mass (pg)","values":[400,600,800,1000]}},
     "y":{"field":"f","type":"quantitative","scale":{"domain":[0,0.15],"range":[28,0]},"axis":{"title":"Frequency","values":[0,0.1],"orient":"left","labelOffset":-2,"titleX":-22,"titleY":4,"titleBaseline":"bottom","titleAngle":270,"titleAlign":"center"}}}},
   {"data":{"name":"fB"},"mark":{"type":"line","color":"#000000","strokeWidth":1},"encoding":{"x":{"field":"x","type":"quantitative"},"y":{"field":"f","type":"quantitative"}}},
   {"data":{"values":[{}]},"mark":{"type":"rule","color":"#262626"},"encoding":{"y":{"datum":0}}},
   {"data":{"values":[{}]},"mark":{"type":"rule","color":"#000000"},"encoding":{"x":{"datum":476},"y":{"datum":0},"y2":{"datum":0.07}}},
   {"data":{"values":[{}]},"mark":{"type":"text","fontSize":10,"color":"#262626"},"encoding":{"x":{"datum":852},"y":{"datum":0.089},"text":{"value":"44.3%"}}},
   {"data":{"values":[{}]},"mark":{"type":"text","fontSize":11.5,"fontWeight":"bold","color":"#000000","baseline":"alphabetic"},"encoding":{"x":{"datum":655},"y":{"datum":0.1714},"text":{"value":"S"}}},
   {"data":{"values":[{}]},"mark":{"type":"text","fontSize":12,"fontWeight":"bold","color":"#000000","align":"left","baseline":"alphabetic"},"encoding":{"x":{"datum":-78},"y":{"datum":0.2464},"text":{"value":"B"}}}
  ]},
  {"layer":[
   {"data":{"name":"pB"},"mark":{"type":"circle","size":7,"color":"#c6c6c6","opacity":1},"encoding":{"x":{"field":"x","type":"quantitative"},"y":{"field":"y","type":"quantitative","scale":{"domain":[0,23],"range":[114,28]},"axis":{"title":"Duration (hr)","values":[0,10,20],"orient":"left","titleX":-22,"titleY":73,"titleBaseline":"bottom","titleAngle":270,"titleAlign":"center"}}}},
   {"data":{"name":"lB"},"mark":{"type":"line","color":"#000000","strokeWidth":1.8},"encoding":{"x":{"field":"x","type":"quantitative"},"y":{"field":"y","type":"quantitative"}}},
   {"data":{"name":"mB"},"mark":{"type":"square","size":40,"color":"#000000","opacity":1},"encoding":{"x":{"field":"x","type":"quantitative"},"y":{"field":"y","type":"quantitative"}}},
   {"data":{"values":[{}]},"mark":{"type":"rect","color":"#f52a2a","opacity":0.3},"encoding":{"x":{"datum":476},"x2":{"datum":1080},"y":{"datum":0},"y2":{"datum":23}}},
   {"data":{"values":[{}]},"mark":{"type":"rule","color":"#000000"},"encoding":{"x":{"datum":476},"y":{"datum":0},"y2":{"datum":23}}},
   {"data":{"values":[{}]},"mark":{"type":"text","fontSize":10,"color":"#262626"},"encoding":{"x":{"datum":902},"y":{"datum":14.6},"text":{"value":"R = -0.12"}}}
  ]}
 ]},
{"width":113,"height":114,"resolve":{"scale":{"y":"independent"},"axis":{"y":"independent"}},
 "layer":[
  {"layer":[
   {"data":{"name":"fC"},"mark":{"type":"line","color":"#000000","strokeWidth":1},
    "encoding":{"x":{"field":"x","type":"quantitative","scale":{"domain":[300,1500]},"axis":{"title":"Initial mass (pg)","values":[500,1000,1500]}},
     "y":{"field":"f","type":"quantitative","scale":{"domain":[0,0.15],"range":[28,0]},"axis":{"title":"Frequency","values":[0,0.1],"orient":"left","labelOffset":-2,"titleX":-22,"titleY":4,"titleBaseline":"bottom","titleAngle":270,"titleAlign":"center"}}}},
   {"data":{"values":[{}]},"mark":{"type":"rule","color":"#262626"},"encoding":{"y":{"datum":0}}},
   {"data":{"values":[{}]},"mark":{"type":"text","fontSize":11.5,"fontWeight":"bold","color":"#000000","baseline":"alphabetic"},"encoding":{"x":{"datum":900},"y":{"datum":0.1714},"text":{"value":"G2-M"}}},
   {"data":{"values":[{}]},"mark":{"type":"text","fontSize":12,"fontWeight":"bold","color":"#000000","align":"left","baseline":"alphabetic"},"encoding":{"x":{"datum":-167},"y":{"datum":0.2464},"text":{"value":"C"}}}
  ]},
  {"layer":[
   {"data":{"name":"pC"},"mark":{"type":"circle","size":7,"color":"#c6c6c6","opacity":1},"encoding":{"x":{"field":"x","type":"quantitative"},"y":{"field":"y","type":"quantitative","scale":{"domain":[0,11],"range":[114,28]},"axis":{"title":"Duration (hr)","values":[0,5,10],"orient":"left","titleX":-22,"titleY":73,"titleBaseline":"bottom","titleAngle":270,"titleAlign":"center"}}}},
   {"data":{"name":"mC"},"mark":{"type":"line","color":"#000000","strokeWidth":1.8},"encoding":{"x":{"field":"x","type":"quantitative"},"y":{"field":"y","type":"quantitative"}}},
   {"data":{"name":"mC"},"mark":{"type":"square","size":40,"color":"#000000","opacity":1},"encoding":{"x":{"field":"x","type":"quantitative"},"y":{"field":"y","type":"quantitative"}}},
   {"data":{"values":[{}]},"mark":{"type":"text","fontSize":10,"color":"#262626"},"encoding":{"x":{"datum":1227},"y":{"datum":6.74},"text":{"value":"R = -0.08"}}}
  ]}
 ]},
{"width":113,"height":114,"resolve":{"scale":{"y":"independent"},"axis":{"y":"independent"}},
 "layer":[
  {"layer":[
   {"data":{"name":"fD"},"transform":[{"filter":"datum.x>=387"}],"mark":{"type":"area","color":"#f52a2a","opacity":0.3},
    "encoding":{"x":{"field":"x","type":"quantitative","scale":{"domain":[150,750]},"axis":{"title":"Initial mass (pg)","values":[200,400,600]}},
     "y":{"field":"f","type":"quantitative","scale":{"domain":[0,0.2],"range":[28,0]},"axis":{"title":"Frequency","values":[0,0.1],"orient":"left","labelOffset":-2,"titleX":-22,"titleY":4,"titleBaseline":"bottom","titleAngle":270,"titleAlign":"center"}}}},
   {"data":{"name":"fD"},"mark":{"type":"line","color":"#000000","strokeWidth":1},"encoding":{"x":{"field":"x","type":"quantitative"},"y":{"field":"f","type":"quantitative"}}},
   {"data":{"values":[{}]},"mark":{"type":"rule","color":"#262626"},"encoding":{"y":{"datum":0}}},
   {"data":{"values":[{}]},"mark":{"type":"rule","color":"#000000"},"encoding":{"x":{"datum":387},"y":{"datum":0},"y2":{"datum":0.062}}},
   {"data":{"values":[{}]},"mark":{"type":"text","fontSize":10,"color":"#262626"},"encoding":{"x":{"datum":570},"y":{"datum":0.091},"text":{"value":"30.7%"}}},
   {"data":{"values":[{}]},"mark":{"type":"text","fontSize":11.5,"fontWeight":"bold","color":"#000000","baseline":"alphabetic"},"encoding":{"x":{"datum":450},"y":{"datum":0.2286},"text":{"value":"Cell Cycle"}}},
   {"data":{"values":[{}]},"mark":{"type":"text","fontSize":12,"fontWeight":"bold","color":"#000000","align":"left","baseline":"alphabetic"},"encoding":{"x":{"datum":-94},"y":{"datum":0.3286},"text":{"value":"D"}}}
  ]},
  {"layer":[
   {"data":{"name":"pD"},"mark":{"type":"circle","size":7,"color":"#c6c6c6","opacity":1},"encoding":{"x":{"field":"x","type":"quantitative"},"y":{"field":"y","type":"quantitative","scale":{"domain":[10,28.5],"range":[114,28]},"axis":{"title":"Duration (hr)","values":[10,15,20,25],"orient":"left","titleX":-22,"titleY":73,"titleBaseline":"bottom","titleAngle":270,"titleAlign":"center"}}}},
   {"data":{"name":"lD"},"mark":{"type":"line","color":"#000000","strokeWidth":1.8},"encoding":{"x":{"field":"x","type":"quantitative"},"y":{"field":"y","type":"quantitative"}}},
   {"data":{"name":"mD"},"mark":{"type":"rule","color":"#000000","strokeWidth":1},"encoding":{"x":{"field":"x","type":"quantitative"},"y":{"field":"lo","type":"quantitative"},"y2":{"field":"hi"}}},
   {"data":{"name":"mD"},"mark":{"type":"tick","orient":"horizontal","size":5,"thickness":1,"color":"#000000","opacity":1},"encoding":{"x":{"field":"x","type":"quantitative"},"y":{"field":"lo","type":"quantitative"}}},
   {"data":{"name":"mD"},"mark":{"type":"tick","orient":"horizontal","size":5,"thickness":1,"color":"#000000","opacity":1},"encoding":{"x":{"field":"x","type":"quantitative"},"y":{"field":"hi","type":"quantitative"}}},
   {"data":{"name":"mD"},"mark":{"type":"square","size":32,"color":"#000000","opacity":1},"encoding":{"x":{"field":"x","type":"quantitative"},"y":{"field":"y","type":"quantitative"}}},
   {"data":{"values":[{}]},"mark":{"type":"rect","color":"#f52a2a","opacity":0.3},"encoding":{"x":{"datum":387},"x2":{"datum":750},"y":{"datum":10},"y2":{"datum":28.5}}},
   {"data":{"values":[{}]},"mark":{"type":"rule","color":"#000000"},"encoding":{"x":{"datum":387},"y":{"datum":10},"y2":{"datum":28.5}}},
   {"data":{"values":[{}]},"mark":{"type":"text","fontSize":10,"color":"#262626"},"encoding":{"x":{"datum":579},"y":{"datum":22.1},"text":{"value":"R = -0.25"}}}
  ]}
 ]},
{"width":113,"height":114,"resolve":{"scale":{"y":"independent"},"axis":{"y":"independent"}},
 "layer":[
  {"layer":[
   {"data":{"name":"fE"},"transform":[{"filter":"datum.x>=600"}],"mark":{"type":"area","color":"#f52a2a","opacity":0.3},
    "encoding":{"x":{"field":"x","type":"quantitative","scale":{"domain":[200,900]},"axis":{"title":"Initial mass (pg)","values":[200,400,600,800]}},
     "y":{"field":"f","type":"quantitative","scale":{"domain":[0,0.15],"range":[28,0]},"axis":{"title":"Frequency","values":[0,0.1],"orient":"left","labelOffset":-2,"titleX":-22,"titleY":4,"titleBaseline":"bottom","titleAngle":270,"titleAlign":"center"}}}},
   {"data":{"name":"fE"},"mark":{"type":"line","color":"#000000","strokeWidth":1},"encoding":{"x":{"field":"x","type":"quantitative"},"y":{"field":"f","type":"quantitative"}}},
   {"data":{"values":[{}]},"mark":{"type":"rule","color":"#262626"},"encoding":{"y":{"datum":0}}},
   {"data":{"values":[{}]},"mark":{"type":"rule","color":"#000000"},"encoding":{"x":{"datum":600},"y":{"datum":0},"y2":{"datum":0.036}}},
   {"data":{"values":[{}]},"mark":{"type":"text","fontSize":10,"color":"#262626"},"encoding":{"x":{"datum":787},"y":{"datum":0.08},"text":{"value":"14.7%"}}},
   {"data":{"values":[{}]},"mark":{"type":"text","fontSize":11.5,"fontWeight":"bold","color":"#000000","baseline":"alphabetic"},"encoding":{"x":{"datum":550},"y":{"datum":0.1768},"text":{"value":"G1"}}},
   {"data":{"values":[{}]},"mark":{"type":"text","fontSize":12,"fontWeight":"bold","color":"#000000","align":"left","baseline":"alphabetic"},"encoding":{"x":{"datum":-91},"y":{"datum":0.2518},"text":{"value":"E"}}}
  ]},
  {"layer":[
   {"data":{"name":"pE"},"mark":{"type":"circle","size":7,"color":"#c6c6c6","opacity":1},"encoding":{"x":{"field":"x","type":"quantitative"},"y":{"field":"y","type":"quantitative","scale":{"domain":[0,23],"range":[114,28]},"axis":{"title":"Duration (hr)","values":[0,10,20],"orient":"left","titleX":-22,"titleY":73,"titleBaseline":"bottom","titleAngle":270,"titleAlign":"center"}}}},
   {"data":{"name":"mE"},"mark":{"type":"line","color":"#000000","strokeWidth":1.8},"encoding":{"x":{"field":"x","type":"quantitative"},"y":{"field":"y","type":"quantitative"}}},
   {"data":{"name":"mE"},"mark":{"type":"square","size":40,"color":"#000000","opacity":1},"encoding":{"x":{"field":"x","type":"quantitative"},"y":{"field":"y","type":"quantitative"}}},
   {"data":{"values":[{}]},"mark":{"type":"rect","color":"#f52a2a","opacity":0.3},"encoding":{"x":{"datum":600},"x2":{"datum":900},"y":{"datum":0},"y2":{"datum":23}}},
   {"data":{"values":[{}]},"mark":{"type":"rule","color":"#000000"},"encoding":{"x":{"datum":600},"y":{"datum":0},"y2":{"datum":23}}},
   {"data":{"values":[{}]},"mark":{"type":"text","fontSize":10,"color":"#262626"},"encoding":{"x":{"datum":756},"y":{"datum":16.1},"text":{"value":"R = -0.20"}}},
   {"data":{"values":[{}]},"mark":{"type":"text","fontSize":12.5,"fontWeight":"bold","color":"#000000","angle":270},"encoding":{"x":{"datum":-104},"y":{"datum":17.1},"text":{"value":"HeLa"}}}
  ]}
 ]},
{"width":113,"height":114,"resolve":{"scale":{"y":"independent"},"axis":{"y":"independent"}},
 "layer":[
  {"layer":[
   {"data":{"name":"fF"},"transform":[{"filter":"datum.x>=684"}],"mark":{"type":"area","color":"#f52a2a","opacity":0.3},
    "encoding":{"x":{"field":"x","type":"quantitative","scale":{"domain":[300,1100]},"axis":{"title":"Initial mass (pg)","values":[400,600,800,1000]}},
     "y":{"field":"f","type":"quantitative","scale":{"domain":[0,0.15],"range":[28,0]},"axis":{"title":"Frequency","values":[0,0.1],"orient":"left","labelOffset":-2,"titleX":-22,"titleY":4,"titleBaseline":"bottom","titleAngle":270,"titleAlign":"center"}}}},
   {"data":{"name":"fF"},"mark":{"type":"line","color":"#000000","strokeWidth":1},"encoding":{"x":{"field":"x","type":"quantitative"},"y":{"field":"f","type":"quantitative"}}},
   {"data":{"values":[{}]},"mark":{"type":"rule","color":"#262626"},"encoding":{"y":{"datum":0}}},
   {"data":{"values":[{}]},"mark":{"type":"rule","color":"#000000"},"encoding":{"x":{"datum":684},"y":{"datum":0},"y2":{"datum":0.055}}},
   {"data":{"values":[{}]},"mark":{"type":"text","fontSize":10,"color":"#262626"},"encoding":{"x":{"datum":897},"y":{"datum":0.08},"text":{"value":"26.5%"}}},
   {"data":{"values":[{}]},"mark":{"type":"text","fontSize":11.5,"fontWeight":"bold","color":"#000000","baseline":"alphabetic"},"encoding":{"x":{"datum":700},"y":{"datum":0.1768},"text":{"value":"S"}}},
   {"data":{"values":[{}]},"mark":{"type":"text","fontSize":12,"fontWeight":"bold","color":"#000000","align":"left","baseline":"alphabetic"},"encoding":{"x":{"datum":10},"y":{"datum":0.2518},"text":{"value":"F"}}}
  ]},
  {"layer":[
   {"data":{"name":"pF"},"mark":{"type":"circle","size":7,"color":"#c6c6c6","opacity":1},"encoding":{"x":{"field":"x","type":"quantitative"},"y":{"field":"y","type":"quantitative","scale":{"domain":[0,26],"range":[114,28]},"axis":{"title":"Duration (hr)","values":[0,10,20],"orient":"left","titleX":-22,"titleY":73,"titleBaseline":"bottom","titleAngle":270,"titleAlign":"center"}}}},
   {"data":{"name":"mF"},"mark":{"type":"line","color":"#000000","strokeWidth":1.8},"encoding":{"x":{"field":"x","type":"quantitative"},"y":{"field":"y","type":"quantitative"}}},
   {"data":{"name":"mF"},"mark":{"type":"square","size":40,"color":"#000000","opacity":1},"encoding":{"x":{"field":"x","type":"quantitative"},"y":{"field":"y","type":"quantitative"}}},
   {"data":{"values":[{}]},"mark":{"type":"rect","color":"#f52a2a","opacity":0.3},"encoding":{"x":{"datum":684},"x2":{"datum":1100},"y":{"datum":0},"y2":{"datum":26}}},
   {"data":{"values":[{}]},"mark":{"type":"rule","color":"#000000"},"encoding":{"x":{"datum":684},"y":{"datum":0},"y2":{"datum":26}}},
   {"data":{"values":[{}]},"mark":{"type":"text","fontSize":10,"color":"#262626"},"encoding":{"x":{"datum":902},"y":{"datum":18.1},"text":{"value":"R = -0.29"}}}
  ]}
 ]},
{"width":113,"height":114,"resolve":{"scale":{"y":"independent"},"axis":{"y":"independent"}},
 "layer":[
  {"layer":[
   {"data":{"name":"fG"},"transform":[{"filter":"datum.x>=1000"}],"mark":{"type":"area","color":"#f52a2a","opacity":0.3},
    "encoding":{"x":{"field":"x","type":"quantitative","scale":{"domain":[400,1500]},"axis":{"title":"Initial mass (pg)","values":[500,1000,1500]}},
     "y":{"field":"f","type":"quantitative","scale":{"domain":[0,0.15],"range":[28,0]},"axis":{"title":"Frequency","values":[0,0.1],"orient":"left","labelOffset":-2,"titleX":-22,"titleY":4,"titleBaseline":"bottom","titleAngle":270,"titleAlign":"center"}}}},
   {"data":{"name":"fG"},"mark":{"type":"line","color":"#000000","strokeWidth":1},"encoding":{"x":{"field":"x","type":"quantitative"},"y":{"field":"f","type":"quantitative"}}},
   {"data":{"values":[{}]},"mark":{"type":"rule","color":"#262626"},"encoding":{"y":{"datum":0}}},
   {"data":{"values":[{}]},"mark":{"type":"rule","color":"#000000"},"encoding":{"x":{"datum":1000},"y":{"datum":0},"y2":{"datum":0.02}}},
   {"data":{"values":[{}]},"mark":{"type":"text","fontSize":10,"color":"#262626"},"encoding":{"x":{"datum":1244},"y":{"datum":0.063},"text":{"value":"12.6%"}}},
   {"data":{"values":[{}]},"mark":{"type":"text","fontSize":11.5,"fontWeight":"bold","color":"#000000","baseline":"alphabetic"},"encoding":{"x":{"datum":950},"y":{"datum":0.1768},"text":{"value":"G2-M"}}},
   {"data":{"values":[{}]},"mark":{"type":"text","fontSize":12,"fontWeight":"bold","color":"#000000","align":"left","baseline":"alphabetic"},"encoding":{"x":{"datum":-28},"y":{"datum":0.2518},"text":{"value":"G"}}}
  ]},
  {"layer":[
   {"data":{"name":"pG"},"mark":{"type":"circle","size":7,"color":"#c6c6c6","opacity":1},"encoding":{"x":{"field":"x","type":"quantitative"},"y":{"field":"y","type":"quantitative","scale":{"domain":[0,14],"range":[114,28]},"axis":{"title":"Duration (hr)","values":[0,5,10],"orient":"left","titleX":-22,"titleY":73,"titleBaseline":"bottom","titleAngle":270,"titleAlign":"center"}}}},
   {"data":{"name":"mG"},"mark":{"type":"line","color":"#000000","strokeWidth":1.8},"encoding":{"x":{"field":"x","type":"quantitative"},"y":{"field":"y","type":"quantitative"}}},
   {"data":{"name":"mG"},"mark":{"type":"square","size":40,"color":"#000000","opacity":1},"encoding":{"x":{"field":"x","type":"quantitative"},"y":{"field":"y","type":"quantitative"}}},
   {"data":{"values":[{}]},"mark":{"type":"rect","color":"#f52a2a","opacity":0.3},"encoding":{"x":{"datum":1000},"x2":{"datum":1500},"y":{"datum":0},"y2":{"datum":14}}},
   {"data":{"values":[{}]},"mark":{"type":"rule","color":"#000000"},"encoding":{"x":{"datum":1000},"y":{"datum":0},"y2":{"datum":14}}},
   {"data":{"values":[{}]},"mark":{"type":"text","fontSize":10,"color":"#262626"},"encoding":{"x":{"datum":1283},"y":{"datum":10.1},"text":{"value":"R = -0.19"}}}
  ]}
 ]},
{"width":113,"height":114,"resolve":{"scale":{"y":"independent"},"axis":{"y":"independent"}},
 "layer":[
  {"layer":[
   {"data":{"name":"fH"},"transform":[{"filter":"datum.x>=570"}],"mark":{"type":"area","color":"#f52a2a","opacity":0.3},
    "encoding":{"x":{"field":"x","type":"quantitative","scale":{"domain":[250,800]},"axis":{"title":"Initial mass (pg)","values":[400,600,800]}},
     "y":{"field":"f","type":"quantitative","scale":{"domain":[0,0.2],"range":[28,0]},"axis":{"title":"Frequency","values":[0,0.1,0.2],"orient":"left","labelOffset":-2,"titleX":-22,"titleY":4,"titleBaseline":"bottom","titleAngle":270,"titleAlign":"center"}}}},
   {"data":{"name":"fH"},"mark":{"type":"line","color":"#000000","strokeWidth":1},"encoding":{"x":{"field":"x","type":"quantitative"},"y":{"field":"f","type":"quantitative"}}},
   {"data":{"values":[{}]},"mark":{"type":"rule","color":"#262626"},"encoding":{"y":{"datum":0}}},
   {"data":{"values":[{}]},"mark":{"type":"rule","color":"#000000"},"encoding":{"x":{"datum":570},"y":{"datum":0},"y2":{"datum":0.051}}},
   {"data":{"values":[{}]},"mark":{"type":"text","fontSize":10,"color":"#262626"},"encoding":{"x":{"datum":667},"y":{"datum":0.1},"text":{"value":"16.7%"}}},
   {"data":{"values":[{}]},"mark":{"type":"text","fontSize":11.5,"fontWeight":"bold","color":"#000000","baseline":"alphabetic"},"encoding":{"x":{"datum":525},"y":{"datum":0.2357},"text":{"value":"Cell cycle"}}},
   {"data":{"values":[{}]},"mark":{"type":"text","fontSize":12,"fontWeight":"bold","color":"#000000","align":"left","baseline":"alphabetic"},"encoding":{"x":{"datum":21},"y":{"datum":0.3357},"text":{"value":"H"}}}
  ]},
  {"layer":[
   {"data":{"name":"pH"},"mark":{"type":"circle","size":7,"color":"#c6c6c6","opacity":1},"encoding":{"x":{"field":"x","type":"quantitative"},"y":{"field":"y","type":"quantitative","scale":{"domain":[15,45],"range":[114,28]},"axis":{"title":"Duration (hr)","values":[20,30,40],"orient":"left","titleX":-22,"titleY":73,"titleBaseline":"bottom","titleAngle":270,"titleAlign":"center"}}}},
   {"data":{"name":"mH"},"mark":{"type":"line","color":"#000000","strokeWidth":1.8},"encoding":{"x":{"field":"x","type":"quantitative"},"y":{"field":"y","type":"quantitative"}}},
   {"data":{"name":"mH"},"mark":{"type":"square","size":40,"color":"#000000","opacity":1},"encoding":{"x":{"field":"x","type":"quantitative"},"y":{"field":"y","type":"quantitative"}}},
   {"data":{"values":[{}]},"mark":{"type":"rect","color":"#f52a2a","opacity":0.3},"encoding":{"x":{"datum":570},"x2":{"datum":800},"y":{"datum":15},"y2":{"datum":45}}},
   {"data":{"values":[{}]},"mark":{"type":"rule","color":"#000000"},"encoding":{"x":{"datum":570},"y":{"datum":15},"y2":{"datum":45}}},
   {"data":{"values":[{}]},"mark":{"type":"text","fontSize":10,"color":"#262626"},"encoding":{"x":{"datum":683},"y":{"datum":36.6},"text":{"value":"R = -0.27"}}}
  ]}
 ]},
{"width":113,"height":114,
 "layer":[
   {"data":{"name":"pI"},"mark":{"type":"circle","size":7,"color":"#c6c6c6","opacity":1},"encoding":{"x":{"field":"x","type":"quantitative","scale":{"domain":[150,700]},"axis":{"title":"Birth mass (pg)","values":[200,400,600]}},"y":{"field":"y","type":"quantitative","scale":{"domain":[400,1100]},"axis":{"title":"Division mass (pg)","values":[400,600,800,1000],"titlePadding":0}}}},
   {"data":{"name":"lI"},"mark":{"type":"line","color":"#000000","strokeWidth":1.8},"encoding":{"x":{"field":"x","type":"quantitative"},"y":{"field":"y","type":"quantitative"}}},
   {"data":{"name":"rI"},"mark":{"type":"line","color":"#e8141b","strokeWidth":1.8},"encoding":{"x":{"field":"x","type":"quantitative"},"y":{"field":"y","type":"quantitative"}}},
   {"data":{"name":"mI"},"mark":{"type":"rule","color":"#000000","strokeWidth":1},"encoding":{"x":{"field":"x","type":"quantitative"},"y":{"field":"lo","type":"quantitative"},"y2":{"field":"hi"}}},
   {"data":{"name":"mI"},"mark":{"type":"tick","orient":"horizontal","size":5,"thickness":1,"color":"#000000","opacity":1},"encoding":{"x":{"field":"x","type":"quantitative"},"y":{"field":"lo","type":"quantitative"}}},
   {"data":{"name":"mI"},"mark":{"type":"tick","orient":"horizontal","size":5,"thickness":1,"color":"#000000","opacity":1},"encoding":{"x":{"field":"x","type":"quantitative"},"y":{"field":"hi","type":"quantitative"}}},
   {"data":{"name":"mI"},"mark":{"type":"circle","size":28,"color":"#000000","opacity":1},"encoding":{"x":{"field":"x","type":"quantitative"},"y":{"field":"y","type":"quantitative"}}},
   {"data":{"values":[{}]},"mark":{"type":"text","fontSize":10,"color":"#262626"},"encoding":{"x":{"datum":520},"y":{"datum":472},"text":{"value":"y = 0.99x+335"}}},
   {"data":{"values":[{}]},"mark":{"type":"text","fontSize":11.5,"fontWeight":"bold","color":"#000000","baseline":"alphabetic"},"encoding":{"x":{"datum":425},"y":{"datum":1125},"text":{"value":"RPE-1"}}},
   {"data":{"values":[{}]},"mark":{"type":"text","fontSize":12,"fontWeight":"bold","color":"#000000","align":"left","baseline":"alphabetic"},"encoding":{"x":{"datum":-69},"y":{"datum":1204},"text":{"value":"I"}}}
 ]},
{"width":113,"height":114,
 "layer":[
   {"data":{"name":"pJ"},"mark":{"type":"circle","size":7,"color":"#c6c6c6","opacity":1},"encoding":{"x":{"field":"x","type":"quantitative","scale":{"domain":[300,800]},"axis":{"title":"Birth mass (pg)","values":[400,600,800]}},"y":{"field":"y","type":"quantitative","scale":{"domain":[500,1600]},"axis":{"title":"Division mass (pg)","values":[500,1000,1500],"titlePadding":0}}}},
   {"data":{"name":"lJ"},"mark":{"type":"line","color":"#000000","strokeWidth":1.8},"encoding":{"x":{"field":"x","type":"quantitative"},"y":{"field":"y","type":"quantitative"}}},
   {"data":{"name":"rJ"},"mark":{"type":"line","color":"#e8141b","strokeWidth":1.8},"encoding":{"x":{"field":"x","type":"quantitative"},"y":{"field":"y","type":"quantitative"}}},
   {"data":{"name":"mJ"},"mark":{"type":"rule","color":"#000000","strokeWidth":1},"encoding":{"x":{"field":"x","type":"quantitative"},"y":{"field":"lo","type":"quantitative"},"y2":{"field":"hi"}}},
   {"data":{"name":"mJ"},"mark":{"type":"circle","size":30,"color":"#000000","opacity":1},"encoding":{"x":{"field":"x","type":"quantitative"},"y":{"field":"y","type":"quantitative"}}},
   {"data":{"values":[{}]},"mark":{"type":"text","fontSize":10,"color":"#262626"},"encoding":{"x":{"datum":636},"y":{"datum":613},"text":{"value":"y = 0.97x+461"}}},
   {"data":{"values":[{}]},"mark":{"type":"text","fontSize":11.5,"fontWeight":"bold","color":"#000000","baseline":"alphabetic"},"encoding":{"x":{"datum":550},"y":{"datum":1639},"text":{"value":"HeLa"}}},
   {"data":{"values":[{}]},"mark":{"type":"text","fontSize":12,"fontWeight":"bold","color":"#000000","align":"left","baseline":"alphabetic"},"encoding":{"x":{"datum":96},"y":{"datum":1764},"text":{"value":"J"}}}
 ]}
]
}
